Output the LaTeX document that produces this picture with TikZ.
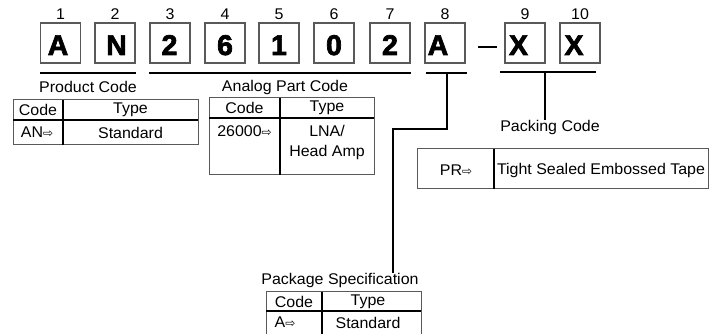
\documentclass[tikz,border=0pt]{standalone}
\usepackage{fontspec}
\setmainfont{Liberation Sans}[FakeStretch=1.03]
\newfontfamily\boxfont{Liberation Sans Bold}[FakeBold=2.5]
\newfontfamily\arrfont{DejaVu Sans}
\newcommand{\arr}{{\arrfont\fontsize{12}{12}\selectfont ⇨}}
\begin{document}
\begin{tikzpicture}[x=1pt,y=-1pt,
  cbox/.style={draw=black!65, line width=1.1pt, minimum size=40pt, inner sep=0pt},
  letter/.style={font=\boxfont\fontsize{28.5}{28.5}\selectfont, anchor=base, inner sep=0pt},
  num/.style={font=\fontsize{15.5}{15.5}\selectfont, anchor=base, inner sep=0pt},
  lbl/.style={font=\fontsize{15.5}{15.5}\selectfont, inner sep=0pt},
  txt/.style={font=\fontsize{15.5}{15.5}\selectfont, inner sep=0pt},
  bar/.style={line width=2pt, black},
  outer/.style={draw=black!65, line width=1pt},
  inner/.style={line width=2pt, black}]
\useasboundingbox (0,0) rectangle (724,334);
% boxes
\foreach \i/\x/\c/\lx in {1/60.5/A/58, 2/115/N/116.5, 3/170/2/169.5, 4/225/6/225, 5/279/1/279, 6/334/0/334, 7/390/2/390, 8/445/A/438, 9/525/X/518.5, 10/580/X/574} {
  \node[cbox] (b\i) at (\x,43) {};
  \node[letter] (l\i) at (\lx,55) {\c};
  \node[num] (n\i) at (\x,20) {\i};
}
% dash
\coordinate (d1) at (478,47);
\coordinate (d2) at (497,47);
\draw[bar] (d1) -- (d2);
% underlines
\coordinate (u1a) at (40,73); \coordinate (u1b) at (136,73);
\coordinate (u2a) at (149,73); \coordinate (u2b) at (411,73);
\coordinate (u3a) at (426,73); \coordinate (u3b) at (467,73);
\coordinate (u4a) at (500,72); \coordinate (u4b) at (596,72);
\draw[bar] (u1a) -- (u1b);
\draw[bar] (u2a) -- (u2b);
\draw[bar] (u3a) -- (u3b);
\draw[bar] (u4a) -- (u4b);
% labels
\node[lbl] (pc) at (88,87) {Product Code};
\node[lbl] (apc) at (285,87) {Analog Part Code};
\node[lbl, anchor=north] (pk) at (550,120) {Packing Code};
\node[lbl, anchor=south] (ps) at (340,288) {Package Specification};
% connectors
\coordinate (c8) at (447,73);
\coordinate (c8b) at (447,129);
\coordinate (c8c) at (393,129);
\coordinate (c9) at (545,72);
\draw[bar] (c8) -- (c8b) -- (c8c) -- (c8c |- ps.north);
\draw[bar] (c9) -- (c9 |- pk.north);
% Product code table
\draw[outer] (13,100) rectangle (198,145);
\draw[inner] (13,120) -- (198,120);
\draw[inner] (63,100) -- (63,145);
\node[txt] (t1a) at (38,110) {Code};
\node[txt] (t1b) at (130.5,110) {Type};
\node[txt] (t1c) at (37,132.5) {AN\arr};
\node[txt] (t1d) at (130.5,132.5) {Standard};
% Analog table
\draw[outer] (209,98) rectangle (374,175);
\draw[inner] (209,118) -- (374,118);
\draw[inner] (280,98) -- (280,175);
\node[txt] (t2a) at (244.5,108) {Code};
\node[txt] (t2b) at (327,108) {Type};
\node[txt] (t2c) at (244.5,131) {26000\arr};
\node[txt] (t2d) at (327,131) {LNA/};
\node[txt] (t2e) at (327,152) {Head Amp};
% Packing table
\draw[outer] (417,149) rectangle (708,189);
\draw[inner] (494,149) -- (494,189);
\node[txt] (t3a) at (456,170) {PR\arr};
\node[txt] (t3b) at (601,170) {Tight Sealed Embossed Tape};
% Package spec table
\draw[outer] (266,340) -- (266,292) -- (421,292) -- (421,340);
\draw[inner] (266,311) -- (421,311);
\draw[inner] (322,292) -- (322,340);
\node[txt] (t4a) at (294,301.5) {Code};
\node[txt] (t4b) at (368,301.5) {Type};
\node[txt] (t4c) at (285,322.5) {A\arr};
\node[txt] (t4d) at (368,322.5) {Standard};
\end{tikzpicture}
\end{document}
